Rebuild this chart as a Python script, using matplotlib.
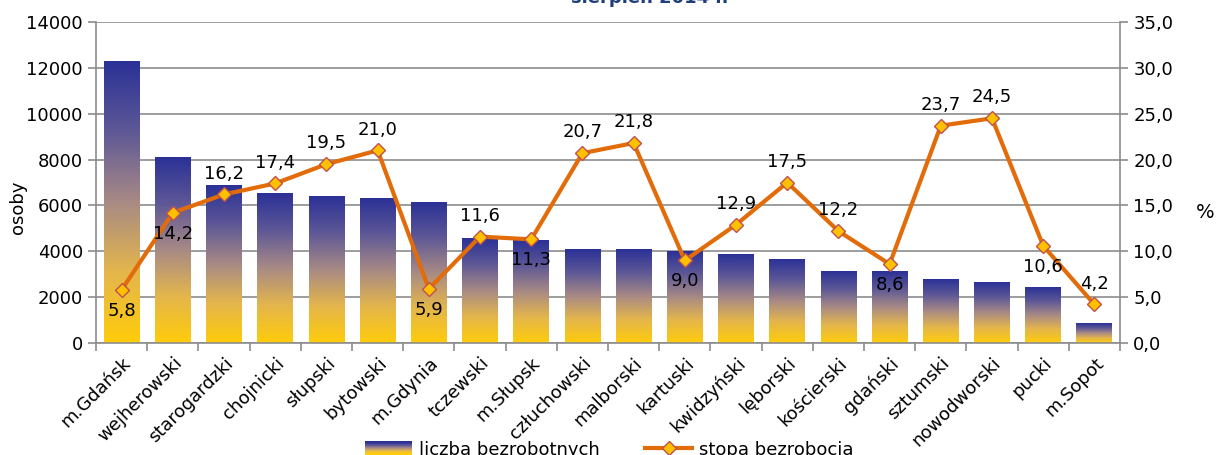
import numpy as np
import matplotlib
matplotlib.use("Agg")
import matplotlib.pyplot as plt
from matplotlib.colors import LinearSegmentedColormap
from matplotlib.patches import Rectangle
from matplotlib.lines import Line2D
from matplotlib.legend_handler import HandlerBase

plt.rcParams['font.family'] = ['DejaVu Sans']

powiaty = ['m.Gdańsk', 'wejherowski', 'starogardzki', 'chojnicki', 'słupski',
           'bytowski', 'm.Gdynia', 'tczewski', 'm.Słupsk', 'człuchowski',
           'malborski', 'kartuski', 'kwidzyński', 'lęborski', 'kościerski',
           'gdański', 'sztumski', 'nowodworski', 'pucki', 'm.Sopot']
liczba = [12260, 8070, 6850, 6500, 6370, 6320, 6150, 4540, 4450, 4100,
          4060, 4010, 3880, 3660, 3140, 3100, 2790, 2660, 2440, 830]
stopa = [5.8, 14.2, 16.2, 17.4, 19.5, 21.0, 5.9, 11.6, 11.3, 20.7,
         21.8, 9.0, 12.9, 17.5, 12.2, 8.6, 23.7, 24.5, 10.6, 4.2]
pod = [True, True, False, False, False, False, True, False, True, False,
       False, True, False, False, False, True, False, False, True, False]

grad = LinearSegmentedColormap.from_list(
    'g', ['#ffcc0a', '#e4b64c', '#a88a85', '#5e5896', '#2b3196'])
orange = '#e36c0a'
szary = '#8c8c8c'

fig = plt.figure(figsize=(12.19, 4.55), dpi=100)
ax = fig.add_axes([0.0788, 0.2462, 0.8400, 0.7054])
ax2 = ax.twinx()

x = np.arange(len(powiaty))
w = 0.70
g = np.linspace(0, 1, 256).reshape(-1, 1)
for xi, h in zip(x, liczba):
    ax.imshow(g, cmap=grad, origin='lower', aspect='auto',
              extent=(xi - w / 2, xi + w / 2, 0, h), zorder=2)

ax.set_xlim(-0.5, len(powiaty) - 0.5)
ax.set_ylim(0, 14000)
ax.set_yticks(range(0, 14001, 2000))
ax.grid(axis='y', color=szary, linewidth=1.2, zorder=0)
ax.set_axisbelow(True)
ax.set_xticks(x)
ax.set_xticklabels(powiaty, rotation=45, ha='right', rotation_mode='anchor')
ax.set_xticks(np.arange(-0.5, len(powiaty)), minor=True)
ax.tick_params(axis='x', which='major', length=0, pad=8, labelsize=13)
ax.tick_params(axis='x', which='minor', length=6, color=szary, width=1.2)
ax.tick_params(axis='y', length=6, color=szary, width=1.2, labelsize=13)
ax.set_ylabel('osoby', fontsize=13)
ax.yaxis.set_label_coords(-0.067, 0.424)
for s in ['left', 'bottom']:
    ax.spines[s].set_color(szary)
    ax.spines[s].set_linewidth(1.2)
ax.spines['top'].set_visible(False)
ax.spines['right'].set_visible(False)

ax2.plot(x, stopa, color=orange, linewidth=3, marker='D', markersize=7,
         markerfacecolor='#ffc000', markeredgecolor='#c0504d',
         markeredgewidth=1, zorder=3)
ax2.set_ylim(0, 35)
ax2.set_yticks(np.arange(0, 35.1, 5))
ax2.set_yticklabels([f'{v:.1f}'.replace('.', ',') for v in np.arange(0, 35.1, 5)])
ax2.tick_params(axis='y', length=6, color=szary, width=1.2, labelsize=13)
ax2.set_ylabel('%', fontsize=14, rotation=0, va='center', ha='center')
ax2.yaxis.set_label_coords(1.083, 0.405)
ax2.spines['right'].set_color(szary)
ax2.spines['right'].set_linewidth(1.2)
for s in ['top', 'left', 'bottom']:
    ax2.spines[s].set_visible(False)

for xi, v, p in zip(x, stopa, pod):
    ax2.annotate(f'{v:.1f}'.replace('.', ','), (xi, v),
                 xytext=(0, -15 if p else 15), textcoords='offset points',
                 ha='center', va='center', fontsize=13)

# tytul ucięty u góry, widać tylko dół liter
fig.text(0.533, 0.9945, 'sierpień 2014 r.', ha='center', va='baseline',
         fontsize=13, fontweight='bold', color='#1f3f7a')


class GradHandler(HandlerBase):
    def create_artists(self, legend, orig, xd, yd, wd, hd, fontsize, trans):
        n = 12
        arts = []
        for i in range(n):
            arts.append(Rectangle((xd, yd + hd * i / n), wd, hd / n + 0.3,
                                  facecolor=grad(i / (n - 1)), edgecolor='none',
                                  transform=trans))
        return arts


bar_h = Rectangle((0, 0), 1, 1)
line_h = Line2D([], [], color=orange, linewidth=3, marker='D', markersize=7,
                markerfacecolor='#ffc000', markeredgecolor='#c0504d')
fig.legend([bar_h, line_h], ['liczba bezrobotnych', 'stopa bezrobocia'],
           handler_map={Rectangle: GradHandler()}, loc='center',
           bbox_to_anchor=(0.5, 0.012), ncol=2, frameon=False, fontsize=13,
           handlelength=2.6, columnspacing=2.5, handletextpad=0.4)

fig.savefig('out.png', dpi=100)
